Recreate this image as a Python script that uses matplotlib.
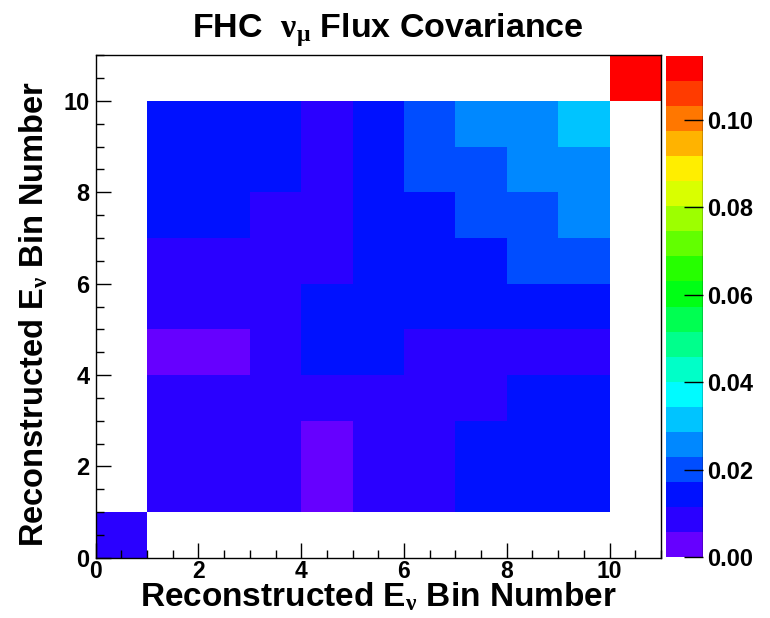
import numpy as np
import matplotlib
matplotlib.use("Agg")
import matplotlib.pyplot as plt
from matplotlib.colors import ListedColormap, BoundaryNorm
from matplotlib.ticker import MultipleLocator

plt.rcParams['font.family'] = ['Liberation Sans', 'DejaVu Sans']
plt.rcParams['font.weight'] = 'bold'
plt.rcParams['mathtext.fontset'] = 'custom'
plt.rcParams['mathtext.rm'] = 'Liberation Serif'
plt.rcParams['mathtext.it'] = 'Liberation Serif:italic'
plt.rcParams['mathtext.bf'] = 'Liberation Sans:bold'

# bin edges (reco E_nu bin number)
bin_edges = np.arange(0, 12)

# covariance values, rows = y bin 0..10 (bottom to top), columns = x bin 0..10
# 0 means empty bin (not drawn)
cov_rows = [
    [0.0088, 0, 0, 0, 0, 0, 0, 0, 0, 0, 0],
    [0, 0.0090, 0.0088, 0.0085, 0.0040, 0.0082, 0.0087, 0.0130, 0.0138, 0.0142, 0],
    [0, 0.0088, 0.0091, 0.0086, 0.0042, 0.0084, 0.0089, 0.0133, 0.0140, 0.0145, 0],
    [0, 0.0085, 0.0086, 0.0092, 0.0095, 0.0098, 0.0101, 0.0105, 0.0125, 0.0135, 0],
    [0, 0.0040, 0.0042, 0.0095, 0.0125, 0.0130, 0.0108, 0.0106, 0.0104, 0.0110, 0],
    [0, 0.0082, 0.0084, 0.0098, 0.0130, 0.0138, 0.0140, 0.0145, 0.0150, 0.0160, 0],
    [0, 0.0087, 0.0089, 0.0101, 0.0108, 0.0140, 0.0148, 0.0160, 0.0185, 0.0200, 0],
    [0, 0.0130, 0.0133, 0.0105, 0.0106, 0.0145, 0.0160, 0.0190, 0.0210, 0.0240, 0],
    [0, 0.0138, 0.0140, 0.0125, 0.0104, 0.0150, 0.0185, 0.0210, 0.0245, 0.0265, 0],
    [0, 0.0142, 0.0145, 0.0135, 0.0110, 0.0160, 0.0200, 0.0240, 0.0265, 0.0310, 0],
    [0, 0, 0, 0, 0, 0, 0, 0, 0, 0, 0.1146],
]

z_max = 0.1146
n_levels = 20

# ROOT-like rainbow palette, violet -> red
palette = ['#6600ff', '#2a00ff', '#0011ff', '#004dff', '#0088ff',
           '#00c4ff', '#00fbff', '#00ffc8', '#00ff8c', '#00ff51',
           '#00ff15', '#26ff00', '#62ff00', '#9dff00', '#d9ff00',
           '#ffee00', '#ffb300', '#ff7700', '#ff3b00', '#ff0000']

cov = np.ma.masked_equal(np.array(cov_rows), 0)
cmap = ListedColormap(palette)
norm = BoundaryNorm(np.linspace(0, z_max, n_levels + 1), cmap.N)

fig = plt.figure(figsize=(7.7, 6.18), dpi=100)
ax = fig.add_axes([95.6 / 770, 1 - 557.7 / 618, 565.4 / 770, 502.4 / 618])
mesh = ax.pcolormesh(bin_edges, bin_edges, cov, cmap=cmap, norm=norm,
                     edgecolors='none', antialiased=False)

ax.set_xlim(0, 11)
ax.set_ylim(0, 11)
ax.xaxis.set_major_locator(MultipleLocator(2))
ax.xaxis.set_minor_locator(MultipleLocator(0.5))
ax.yaxis.set_major_locator(MultipleLocator(2))
ax.yaxis.set_minor_locator(MultipleLocator(0.5))
ax.tick_params(which='both', direction='in', top=False, right=False,
               width=1, colors='black', labelsize=17)
ax.tick_params(axis='x', labelsize=16.5)
ax.tick_params(which='major', length=11)
ax.tick_params(which='minor', length=5.5)
ax.tick_params(axis='x', pad=2)
ax.tick_params(axis='y', pad=4.5)
for s in ax.spines.values():
    s.set_linewidth(1)

ax.set_xlabel(r'Reconstructed $\mathbf{E}_{\mathrm{\nu}}$ Bin Number',
              fontsize=24, fontweight='bold', va='baseline')
ax.xaxis.set_label_coords(0.5, -0.096)
ax.set_ylabel(r'Reconstructed $\mathbf{E}_{\mathrm{\nu}}$ Bin Number',
              fontsize=23.5, fontweight='bold', va='baseline')
ax.yaxis.set_label_coords(-0.0925, 0.485)

fig.text(0.503, 1 - 36.7 / 618, r'FHC  $\mathrm{\nu_{\mu}}$ Flux Covariance',
         ha='center', va='baseline', fontsize=24.5, fontweight='bold')

cax = fig.add_axes([666 / 770, 1 - 557 / 618, 37 / 770, 501 / 618])
cbar = fig.colorbar(mesh, cax=cax, ticks=[0, 0.02, 0.04, 0.06, 0.08, 0.10],
                    format='%.2f', drawedges=False)
cbar.outline.set_visible(False)
cax.axvline(1, color='black', lw=1)
cax.tick_params(which='major', direction='in', length=14, width=1,
                labelsize=17, pad=3, right=True, left=False)
cax.minorticks_off()

fig.savefig('out.png', dpi=100)
